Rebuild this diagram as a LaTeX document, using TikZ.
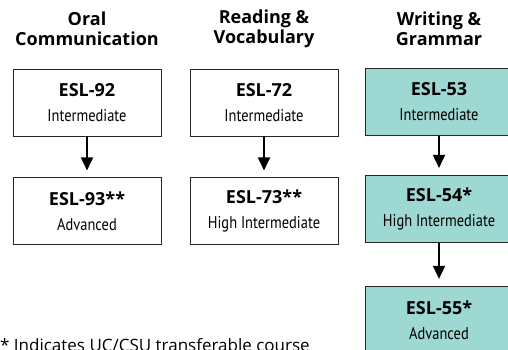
\documentclass[tikz,border=0pt]{standalone}
\usepackage{fontspec}
\setmainfont{Open Sans}
\newfontfamily\narrowfont[FakeStretch=0.85]{PT Sans}
\usetikzlibrary{positioning,arrows.meta}
\definecolor{wgteal}{RGB}{158,216,210}
\newcommand{\esl}[1]{{\fontsize{18}{20}\selectfont\bfseries #1}}
\newcommand{\lvl}[1]{{\narrowfont\fontsize{17}{20}\selectfont #1}}

\begin{document}
\begin{tikzpicture}[x=1pt, y=-1pt, node distance=41pt, >={Triangle[width=12pt,length=13pt]},
  course/.style={draw=black!85, line width=0.9pt, fill=white, minimum width=148pt, minimum height=67pt, align=center, inner sep=2pt, font=\fontsize{15}{25}\selectfont},
  wgcourse/.style={course, fill=wgteal},
  header/.style={align=center, font=\fontsize{18}{20}\selectfont\bfseries},
  flow/.style={->, line width=1.8pt, shorten >=7pt}]
\useasboundingbox (0,0) rectangle (508,350);

\node[header] (horal) at (87,29) {Oral\\Communication};
\node[header] (hread) at (264,29) {Reading \&\\Vocabulary};
\node[header] (hwrite) at (439,29) {Writing \&\\Grammar};

\node[course] (e92) at (87,102.5) {\esl{ESL-92}\\\lvl{Intermediate}};
\node[course, below=of e92] (e93) {\esl{ESL-93**}\\\lvl{Advanced}};

\node[course] (e72) at (264,102.5) {\esl{ESL-72}\\\lvl{Intermediate}};
\node[course, below=of e72] (e73) {\esl{ESL-73**}\\\lvl{High Intermediate}};

\node[wgcourse] (e53) at (439,102) {\esl{ESL-53}\\\lvl{Intermediate}};
\node[wgcourse, below=39pt of e53] (e54) {\esl{ESL-54*}\\\lvl{High Intermediate}};
\node[wgcourse, below=43pt of e54] (e55) {\esl{ESL-55*}\\\lvl{Advanced}};

\draw[flow] (e92) -- (e93);
\draw[flow] (e72) -- (e73);
\draw[flow] (e53) -- (e54);
\draw[flow] (e54) -- (e55);

\node[anchor=base west, inner sep=0pt, font=\fontsize{17}{20}\selectfont] (note) at (0,351) {* Indicates UC/CSU transferable course};
\end{tikzpicture}
\end{document}
